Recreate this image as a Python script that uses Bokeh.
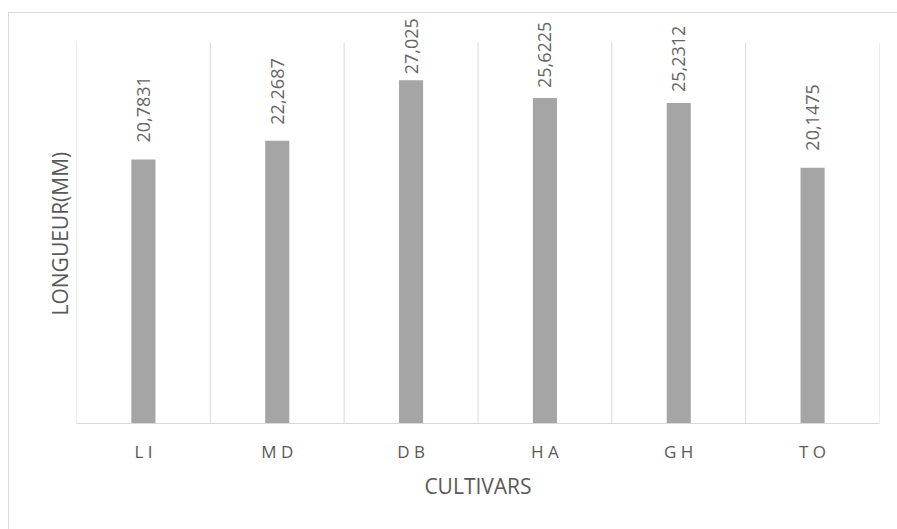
import math

from bokeh.core.properties import value
from bokeh.embed import file_html
from bokeh.resources import INLINE
from bokeh.plotting import figure
from bokeh.models import (ColumnDataSource, Range1d, FixedTicker, LabelSet,
                          Title)

# Mean length per cultivar (mm)
cultivars = ["LI", "MD", "DB", "HA", "GH", "TO"]
lengths = [20.7831, 22.2687, 27.025, 25.6225, 25.2312, 20.1475]
value_texts = ["20,7831", "22,2687", "27,025", "25,6225", "25,2312", "20,1475"]
y_max = 30

# Gap (px) between each bar top and the start of its rotated label
label_gaps = [17, 16, 6, 10, 11, 17]

FONT = "Open Sans"
TEXT_GREY = "#595959"
LINE_GREY = "#d9d9d9"

# Plot area is 381 px tall for 0..y_max; the frame is extended 42 px above
# it so the rotated value labels are not clipped.
PLOT_H, HEAD = 381, 42
y_top = y_max * (PLOT_H + HEAD) / PLOT_H

n = len(cultivars)
x_pos = [i + 0.5 for i in range(n)]
src = ColumnDataSource(dict(x=x_pos, top=lengths, label=value_texts,
                            gap=label_gaps))
sep = ColumnDataSource(dict(x=list(range(n + 1)), y0=[0] * (n + 1),
                            y1=[y_max] * (n + 1)))

p = figure(width=897, height=529, output_backend="svg", toolbar_location=None,
           x_range=Range1d(0, n), y_range=Range1d(0, y_top),
           min_border_left=76, min_border_right=18, min_border_top=0,
           min_border_bottom=106)
p.outline_line_color = None
p.background_fill_color = None
p.border_fill_color = None
# Chart-area border drawn behind the transparent canvas
p.styles = {
    "background-color": "white",
    "background-image": "linear-gradient(#d9d9d9, #d9d9d9), "
                        "linear-gradient(#d9d9d9, #d9d9d9)",
    "background-size": "1px calc(100% - 12px), calc(100% - 8px) 1px",
    "background-position": "8px 12px, 8px 12px",
    "background-repeat": "no-repeat",
}

# Category separators, limited to the 0..y_max plot area
p.segment(x0="x", x1="x", y0="y0", y1="y1", source=sep,
          line_color=LINE_GREY, line_width=1)

p.vbar(x="x", top="top", width=0.18, bottom=0, source=src,
       fill_color="#a5a5a5", line_color=None)

labels = LabelSet(x="x", y="top", text="label", source=src,
                  angle=math.pi / 2, y_offset="gap",
                  text_align="left", text_baseline="middle",
                  text_font=value(FONT), text_font_size="18px",
                  text_color="#666666")
p.add_layout(labels)

p.xgrid.grid_line_color = None
p.ygrid.grid_line_color = None

xa = p.xaxis[0]
xa.ticker = FixedTicker(ticks=x_pos)
xa.major_label_overrides = {x: " ".join(c) for x, c in zip(x_pos, cultivars)}
xa.major_tick_line_color = None
xa.minor_tick_line_color = None
xa.major_tick_out = 0
xa.axis_line_color = LINE_GREY
xa.major_label_text_font = FONT
xa.major_label_text_font_size = "17px"
xa.major_label_text_color = TEXT_GREY
xa.major_label_standoff = 16
xa.axis_label = "CULTIVARS"
xa.axis_label_text_font = FONT
xa.axis_label_text_font_size = "21px"
xa.axis_label_text_font_style = "normal"
xa.axis_label_text_color = TEXT_GREY
xa.axis_label_standoff = 6

p.yaxis.visible = False

# Y title centred on the 0..y_max plot area (not the whole frame)
ytitle = Title(text="LONGUEUR(MM)", align="left", offset=108, standoff=6,
               text_font=FONT, text_font_size="21px",
               text_font_style="normal", text_color=TEXT_GREY)
p.add_layout(ytitle, "left")

open("out.html", "w").write(file_html(p, INLINE))
